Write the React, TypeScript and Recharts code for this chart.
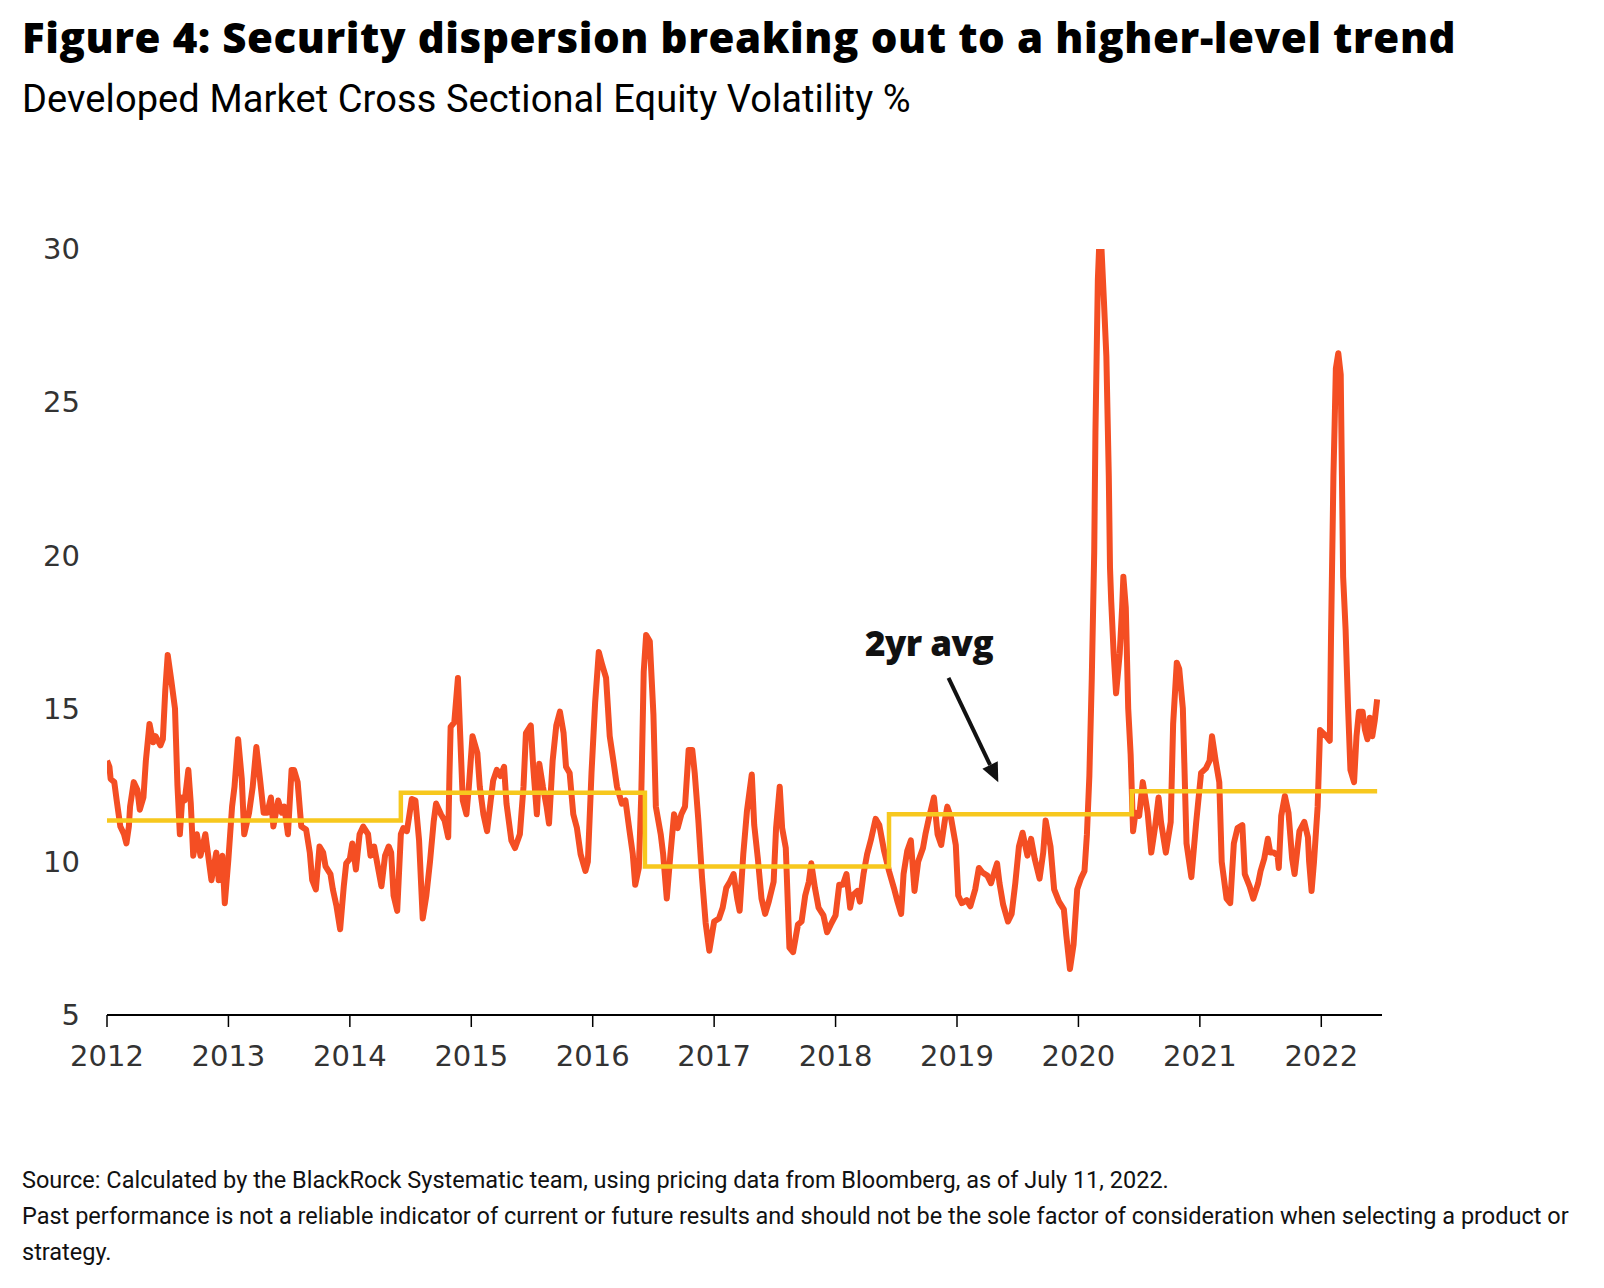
import React from "react";
import { LineChart, Line, XAxis, YAxis, ReferenceLine, ReferenceDot } from "recharts";

// cross sectional equity volatility as [year, %]
const vol2012 = [
  [2012.0, 13.3], [2012.02, 13.1], [2012.03, 12.7], [2012.06, 12.6], [2012.08, 12.0], [2012.11, 11.15],
  [2012.14, 10.9], [2012.16, 10.6], [2012.18, 11.15], [2012.19, 11.8], [2012.22, 12.6], [2012.25, 12.35],
  [2012.27, 11.7], [2012.3, 12.1], [2012.32, 13.3], [2012.35, 14.5], [2012.38, 13.9], [2012.4, 14.1],
  [2012.44, 13.8], [2012.46, 14.0], [2012.48, 15.6], [2012.5, 16.75], [2012.53, 15.9], [2012.56, 15.0],
  [2012.58, 12.5], [2012.6, 10.9], [2012.62, 12.1], [2012.64, 12.0], [2012.67, 13.0], [2012.69, 11.9],
  [2012.71, 10.2], [2012.74, 10.9], [2012.77, 10.2], [2012.81, 10.9], [2012.83, 10.3], [2012.86, 9.4],
  [2012.9, 10.3], [2012.92, 9.4], [2012.95, 10.2], [2012.97, 8.65],
];
const vol2013 = [
  [2013.0, 10.1], [2013.03, 11.8], [2013.05, 12.45], [2013.08, 14.0], [2013.11, 12.7], [2013.13, 10.9],
  [2013.17, 11.6], [2013.2, 12.45], [2013.23, 13.75], [2013.26, 12.7], [2013.29, 11.6], [2013.32, 11.6],
  [2013.35, 12.1], [2013.37, 11.15], [2013.41, 12.0], [2013.44, 11.6], [2013.46, 11.8], [2013.49, 10.9],
  [2013.52, 13.0], [2013.54, 13.0], [2013.57, 12.6], [2013.6, 11.15], [2013.64, 11.05], [2013.67, 10.3],
  [2013.69, 9.4], [2013.72, 9.1], [2013.75, 10.5], [2013.78, 10.3], [2013.8, 9.85], [2013.84, 9.6],
  [2013.86, 9.1], [2013.89, 8.55], [2013.92, 7.8], [2013.95, 9.2], [2013.97, 9.95],
];
const vol2014 = [
  [2014.0, 10.1], [2014.02, 10.6], [2014.05, 9.75], [2014.08, 10.9], [2014.11, 11.15], [2014.15, 10.9],
  [2014.17, 10.2], [2014.2, 10.5], [2014.23, 9.85], [2014.26, 9.2], [2014.29, 10.2], [2014.32, 10.5],
  [2014.34, 10.3], [2014.36, 8.9], [2014.39, 8.4], [2014.42, 10.9], [2014.44, 11.1], [2014.47, 11.0],
  [2014.51, 12.05], [2014.54, 12.0], [2014.57, 10.7], [2014.6, 8.15], [2014.63, 8.9], [2014.66, 10.0],
  [2014.69, 11.3], [2014.71, 11.9], [2014.75, 11.55], [2014.78, 11.35], [2014.81, 10.8], [2014.82, 12.8],
  [2014.83, 14.4], [2014.86, 14.55], [2014.89, 16.0], [2014.91, 14.0], [2014.93, 12.0], [2014.96, 11.55],
  [2014.98, 12.45],
];
const vol2015 = [
  [2015.01, 14.1], [2015.05, 13.55], [2015.07, 12.45], [2015.1, 11.55], [2015.13, 11.0], [2015.16, 12.0],
  [2015.18, 12.65], [2015.21, 13.0], [2015.24, 12.8], [2015.27, 13.1], [2015.29, 11.9], [2015.33, 10.7],
  [2015.36, 10.45], [2015.4, 10.9], [2015.43, 12.45], [2015.45, 14.2], [2015.49, 14.45], [2015.51, 13.1],
  [2015.54, 11.55], [2015.56, 13.2], [2015.59, 12.45], [2015.62, 11.8], [2015.64, 11.25], [2015.67, 13.3],
  [2015.7, 14.45], [2015.73, 14.9], [2015.76, 14.2], [2015.78, 13.1], [2015.81, 12.9], [2015.84, 11.55],
  [2015.87, 11.1], [2015.9, 10.25], [2015.94, 9.7], [2015.96, 10.0], [2015.99, 12.9],
];
const vol2016 = [
  [2016.02, 15.2], [2016.05, 16.85], [2016.08, 16.4], [2016.11, 16.0], [2016.14, 14.1], [2016.17, 13.3],
  [2016.2, 12.45], [2016.24, 11.9], [2016.27, 12.0], [2016.3, 11.1], [2016.33, 10.25], [2016.35, 9.25],
  [2016.38, 9.8], [2016.4, 12.2], [2016.42, 16.2], [2016.44, 17.4], [2016.47, 17.2], [2016.5, 14.8],
  [2016.52, 11.8], [2016.56, 10.9], [2016.58, 10.25], [2016.61, 8.8], [2016.64, 10.25], [2016.67, 11.55],
  [2016.7, 11.1], [2016.73, 11.55], [2016.76, 11.8], [2016.79, 13.65], [2016.82, 13.65], [2016.84, 12.9],
  [2016.87, 11.35], [2016.9, 9.5], [2016.93, 8.0], [2016.96, 7.1],
];
const vol2017 = [
  [2017.0, 8.05], [2017.04, 8.15], [2017.07, 8.5], [2017.1, 9.15], [2017.13, 9.35], [2017.16, 9.6],
  [2017.19, 8.8], [2017.21, 8.4], [2017.24, 10.25], [2017.27, 11.65], [2017.31, 12.85], [2017.33, 11.2],
  [2017.36, 10.1], [2017.39, 8.8], [2017.42, 8.3], [2017.45, 8.7], [2017.49, 9.35], [2017.51, 11.1],
  [2017.54, 12.45], [2017.56, 11.1], [2017.59, 10.45], [2017.62, 7.2], [2017.65, 7.05], [2017.69, 7.95],
  [2017.72, 8.05], [2017.75, 8.9], [2017.78, 9.35], [2017.8, 9.95], [2017.83, 9.15], [2017.86, 8.5],
  [2017.9, 8.25], [2017.93, 7.7], [2017.96, 7.95],
];
const vol2018 = [
  [2018.0, 8.25], [2018.03, 9.25], [2018.06, 9.25], [2018.09, 9.6], [2018.12, 8.5], [2018.14, 8.9],
  [2018.18, 9.05], [2018.2, 8.7], [2018.23, 9.6], [2018.26, 10.25], [2018.29, 10.7], [2018.33, 11.4],
  [2018.36, 11.2], [2018.4, 10.35], [2018.44, 9.7], [2018.48, 9.15], [2018.51, 8.7], [2018.54, 8.3],
  [2018.56, 9.6], [2018.59, 10.35], [2018.62, 10.7], [2018.65, 9.05], [2018.68, 10.0], [2018.72, 10.45],
  [2018.74, 10.9], [2018.77, 11.45], [2018.81, 12.1], [2018.84, 10.9], [2018.87, 10.55], [2018.9, 11.35],
  [2018.92, 11.8], [2018.95, 11.45], [2018.99, 10.55],
];
const vol2019 = [
  [2019.01, 8.9], [2019.04, 8.65], [2019.08, 8.75], [2019.11, 8.55], [2019.15, 9.1], [2019.18, 9.8],
  [2019.21, 9.65], [2019.25, 9.55], [2019.28, 9.3], [2019.31, 9.7], [2019.33, 9.95], [2019.35, 9.3],
  [2019.38, 8.6], [2019.42, 8.05], [2019.45, 8.3], [2019.48, 9.3], [2019.51, 10.5], [2019.54, 10.95],
  [2019.58, 10.2], [2019.61, 10.75], [2019.64, 10.1], [2019.68, 9.45], [2019.71, 10.3], [2019.73, 11.35],
  [2019.77, 10.5], [2019.8, 9.1], [2019.84, 8.7], [2019.88, 8.45], [2019.9, 7.6], [2019.93, 6.5],
  [2019.96, 7.3], [2019.99, 9.1],
];
const vol2020 = [
  [2020.02, 9.45], [2020.05, 9.7], [2020.07, 10.9], [2020.09, 12.8], [2020.11, 16.0], [2020.13, 20.1],
  [2020.14, 24.0], [2020.16, 29.0], [2020.17, 30.0], [2020.19, 30.0], [2020.21, 28.3], [2020.23, 26.5],
  [2020.25, 22.6], [2020.26, 19.6], [2020.27, 18.5], [2020.29, 16.8], [2020.31, 15.5], [2020.34, 16.8],
  [2020.36, 18.3], [2020.37, 19.3], [2020.39, 18.3], [2020.41, 15.0], [2020.43, 13.5], [2020.45, 11.0],
  [2020.47, 11.6], [2020.5, 11.5], [2020.53, 12.6], [2020.57, 11.6], [2020.6, 10.3], [2020.63, 11.1],
  [2020.66, 12.1], [2020.68, 11.3], [2020.72, 10.3], [2020.76, 11.3], [2020.78, 14.5], [2020.81, 16.5],
  [2020.83, 16.3], [2020.86, 15.0], [2020.89, 10.6], [2020.93, 9.5], [2020.97, 11.3],
];
const vol2021 = [
  [2021.01, 12.9], [2021.05, 13.05], [2021.08, 13.3], [2021.1, 14.1], [2021.13, 13.3], [2021.16, 12.6],
  [2021.18, 10.0], [2021.22, 8.8], [2021.25, 8.65], [2021.28, 10.6], [2021.31, 11.1], [2021.35, 11.2],
  [2021.37, 9.6], [2021.41, 9.2], [2021.44, 8.8], [2021.48, 9.3], [2021.5, 9.7], [2021.53, 10.1],
  [2021.56, 10.75], [2021.58, 10.3], [2021.61, 10.3], [2021.64, 10.2], [2021.65, 9.8], [2021.67, 11.5],
  [2021.7, 12.15], [2021.73, 11.6], [2021.76, 10.1], [2021.78, 9.6], [2021.82, 11.0], [2021.86, 11.3],
  [2021.89, 10.8], [2021.9, 10.0], [2021.92, 9.05], [2021.94, 10.0], [2021.97, 11.8], [2021.99, 14.3],
];
const vol2022 = [
  [2022.04, 14.1], [2022.07, 13.95], [2022.08, 17.3], [2022.1, 22.6], [2022.11, 24.3], [2022.12, 26.1],
  [2022.14, 26.6], [2022.16, 25.9], [2022.17, 22.6], [2022.18, 19.3], [2022.2, 17.6], [2022.22, 15.1],
  [2022.24, 13.0], [2022.27, 12.6], [2022.29, 14.1], [2022.31, 14.9], [2022.34, 14.9], [2022.36, 14.3],
  [2022.38, 14.0], [2022.4, 14.7], [2022.42, 14.1], [2022.44, 14.6], [2022.46, 15.3],
];

// 2yr average: level holds from each break until the next one
const avgBreaks = [2012.0, 2014.42, 2016.43, 2018.44, 2020.44, 2022.46];
const avgLevels = [11.35, 12.25, 9.85, 11.55, 12.3, 12.3];

const yearTicks = [2012, 2013, 2014, 2015, 2016, 2017, 2018, 2019, 2020, 2021, 2022];
const valueTicks = [5, 10, 15, 20, 25, 30];

const dispersion = [
  ...vol2012, ...vol2013, ...vol2014, ...vol2015, ...vol2016, ...vol2017,
  ...vol2018, ...vol2019, ...vol2020, ...vol2021, ...vol2022,
].map(([t, v]) => ({ t, v }));

const avgLine = avgBreaks.map((t, i) => ({ t, v: avgLevels[i] }));

const arrowFrom = { x: 2018.93, y: 16.0 };
const arrowTo = { x: 2019.34, y: 12.6 };
const labelAt = { x: 2018.77, y: 16.72 };

function ArrowShape(props: any) {
  const { x1, y1, x2, y2 } = props;
  const dx = x2 - x1;
  const dy = y2 - y1;
  const len = Math.hypot(dx, dy) || 1;
  const ux = dx / len;
  const uy = dy / len;
  const head = 19;
  const half = 8.5;
  const bx = x2 - ux * head;
  const by = y2 - uy * head;
  const pts = `${x2},${y2} ${bx - uy * half},${by + ux * half} ${bx + uy * half},${by - ux * half}`;
  return (
    <g>
      <line x1={x1} y1={y1} x2={bx} y2={by} stroke="#111" strokeWidth={4} />
      <polygon points={pts} fill="#111" />
    </g>
  );
}

function AvgLabel(props: any) {
  return (
    <text
      x={props.cx}
      y={props.cy}
      textAnchor="middle"
      fontFamily="'Open Sans', sans-serif"
      fontWeight={800}
      fontSize={35}
      letterSpacing={-0.5}
      fill="#111"
    >
      2yr avg
    </text>
  );
}

const tickStyle = { fill: "#333", fontSize: 29, fontFamily: "'DejaVu Sans', sans-serif" };

export default function App() {
  return (
    <div
      style={{
        position: "absolute",
        left: 0,
        top: 0,
        width: 1604,
        height: 1288,
        background: "#fff",
        fontFamily: "Roboto, sans-serif",
        color: "#000",
      }}
    >
      <div
        style={{
          position: "absolute",
          left: 22,
          top: 10,
          fontFamily: "'Open Sans', sans-serif",
          fontSize: 42,
          lineHeight: "54px",
          fontWeight: 800,
          letterSpacing: 0.6,
          whiteSpace: "nowrap",
        }}
      >
        Figure 4: Security dispersion breaking out to a higher-level trend
      </div>
      <div
        style={{
          position: "absolute",
          left: 22,
          top: 76,
          fontSize: 38,
          lineHeight: "46px",
          fontWeight: 400,
          letterSpacing: 0.1,
          whiteSpace: "nowrap",
        }}
      >
        Developed Market Cross Sectional Equity Volatility %
      </div>

      <div style={{ position: "absolute", left: 0, top: 200 }}>
        <LineChart width={1430} height={885} margin={{ top: 49, right: 48, left: 47, bottom: 10 }}>
          <XAxis
            dataKey="t"
            type="number"
            domain={[2012, 2022.5]}
            ticks={yearTicks}
            allowDataOverflow
            height={60}
            tick={tickStyle}
            tickSize={12}
            tickMargin={18}
            axisLine={{ stroke: "#000", strokeWidth: 2 }}
            tickLine={{ stroke: "#000", strokeWidth: 1.5 }}
          />
          <YAxis
            type="number"
            domain={[5, 30]}
            ticks={valueTicks}
            allowDataOverflow
            width={60}
            tick={tickStyle}
            tickMargin={21}
            axisLine={false}
            tickLine={false}
          />
          <Line
            data={dispersion}
            dataKey="v"
            type="linear"
            stroke="#f44e23"
            strokeWidth={6}
            strokeLinejoin="round"
            dot={false}
            isAnimationActive={false}
          />
          <Line
            data={avgLine}
            dataKey="v"
            type="stepAfter"
            stroke="#f7c81e"
            strokeWidth={4.5}
            dot={false}
            isAnimationActive={false}
          />
          <ReferenceLine segment={[arrowFrom, arrowTo]} shape={ArrowShape} ifOverflow="visible" />
          <ReferenceDot x={labelAt.x} y={labelAt.y} r={0} shape={AvgLabel} ifOverflow="visible" />
        </LineChart>
      </div>

      <div
        style={{
          position: "absolute",
          left: 22,
          top: 1163,
          fontSize: 23.5,
          lineHeight: "35.8px",
          whiteSpace: "nowrap",
          color: "#111",
        }}
      >
        Source: Calculated by the BlackRock Systematic team, using pricing data from Bloomberg, as of July 11, 2022.
        <br />
        Past performance is not a reliable indicator of current or future results and should not be the sole factor of
        consideration when selecting a product or
        <br />
        strategy.
      </div>
    </div>
  );
}
